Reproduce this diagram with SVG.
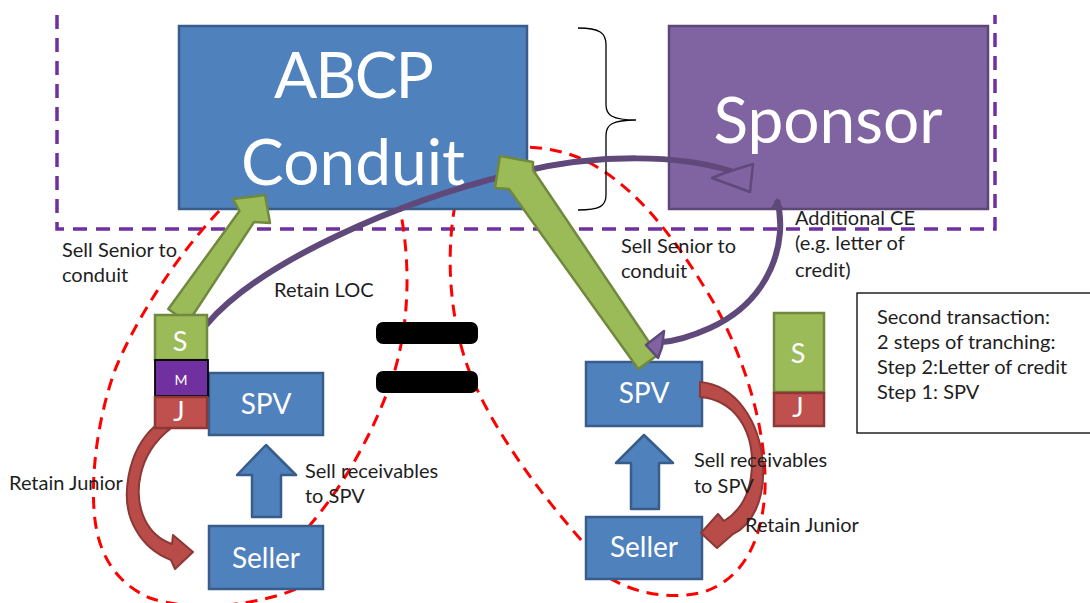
<svg xmlns="http://www.w3.org/2000/svg" width="1090" height="603" viewBox="0 0 1090 603">
<style>
.box{fill:#4F81BD;stroke:#385D8A;stroke-width:2.5}
.wt{fill:#fff;font-family:Lato,"Liberation Sans",sans-serif;text-anchor:middle}
.lb{fill:#1e1e1e;font-family:Lato,"Liberation Sans",sans-serif;font-size:20px}
.red{fill:none;stroke:#FF0000;stroke-width:3;stroke-dasharray:12 8}
.grn{fill:#9BBB59;stroke:#71893F;stroke-width:2.5;stroke-linejoin:round}
.rar{fill:#B94B48;stroke:#8C3836;stroke-width:2;stroke-linejoin:round}
.blu{fill:#4F81BD;stroke:#385D8A;stroke-width:2.5;stroke-linejoin:round}
.pur{fill:none;stroke:#5F497A;stroke-width:6;stroke-linecap:round}
.phd{fill:#8064A2;stroke:#5F497A;stroke-width:2.5;stroke-linejoin:round}
</style>
<g id="boundary">
<path d="M57 15 L57 229 L995 229 L995 15" fill="none" stroke="#7030A0" stroke-width="3.5" stroke-dasharray="14 9"/>
</g>
<g id="loops">
<path class="red" d="M398 200 C412 260 410 330 390 385 C370 440 340 490 310 525 L305 585 C260 607 190 612 150 598 C120 585 100 560 95 520 C90 480 97 420 115 370 C135 320 180 250 225 205"/>
<path class="red" d="M455 205 C445 260 450 330 475 385 C500 440 545 500 590 550 L605 575 C630 592 665 600 700 593 C740 582 762 545 765 490 C767 430 745 360 715 305 C680 245 640 190 590 163 C570 152 545 147 520 147"/>
</g>
<g id="brace">
<path d="M578 28 C600 28 606 33 606 45 L606 105 C606 115 612 120 636 120 C612 120 606 125 606 135 L606 195 C606 206 600 210 578 210" fill="none" stroke="#000" stroke-width="1.3"/>
</g>
<g id="conduit">
<rect class="box" x="179" y="26" width="348" height="183"/>
<text class="wt" x="353" y="98" font-size="64" letter-spacing="-2">ABCP</text>
<text class="wt" x="353" y="185" font-size="64">Conduit</text>
</g>
<g id="sponsor">
<rect x="669" y="26" width="319" height="183" fill="#8064A2" stroke="#5C4776" stroke-width="2.5"/>
<text class="wt" x="828" y="143" font-size="64">Sponsor</text>
</g>
<g id="equals">
<rect x="376" y="322" width="102" height="22" rx="7" fill="#000"/>
<rect x="376" y="371" width="102" height="22" rx="7" fill="#000"/>
</g>
<g id="spv-left">
<rect class="box" x="209" y="373" width="114" height="62"/>
<text class="wt" x="266" y="414" font-size="28">SPV</text>
</g>
<g id="seller-left">
<rect class="box" x="209" y="526" width="114" height="63"/>
<text class="wt" x="266" y="568" font-size="28">Seller</text>
</g>
<g id="spv-right">
<rect class="box" x="586" y="362" width="116" height="64"/>
<text class="wt" x="644" y="403" font-size="28">SPV</text>
</g>
<g id="seller-right">
<rect class="box" x="586" y="517" width="116" height="62"/>
<text class="wt" x="644" y="557" font-size="28">Seller</text>
</g>
<g id="connectors">
<polygon class="blu" points="266,445 296,475 281,475 281,517 252,517 252,475 237,475"/>
<polygon class="blu" points="644,435 673,463 659,463 659,509 631,509 631,463 616,463"/>
<path class="rar" d="M155 426 C128 450 118 500 136 530 C145 546 158 555 171 560 L175 569 L193 552 L173 535 L172 544 C160 540 151 532 145 520 C133 495 137 455 170 429 Z"/>
<path class="rar" d="M700 382 C735 385 760 420 763 465 C765 500 752 525 733 534 L717 548 L701 533 L718 514 L724 521 C742 510 752 490 752 462 C752 430 735 400 700 397 Z"/>
<path class="pur" d="M207 324 C260 262 400 200 520 172 C600 153 680 155 731 171"/>
<polygon class="phd" points="740,168 753,164 750,192 712,178 722,174"/>
<polygon class="grn" points="187.7,323 254,222 270,223 265,195 233,199 239.5,211 168.3,309"/>
<polygon class="grn" points="657.7,355 533,170 533,162 500,156 495,188 509,189 638.3,369"/>
<path d="M777 200 C788 240 772 300 710 328 C690 337 675 341 662 342" fill="none" stroke="#5F497A" stroke-width="6"/>
<path d="M771 208 L777 198 L783 208 Z" fill="#5F497A"/>
<polygon class="phd" points="664,331 646,345 658,358 662,347"/>
</g>
<g id="tranches-left">
<rect x="155" y="315" width="52" height="45" fill="#9BBB59" stroke="#71893F" stroke-width="2.5"/>
<text class="wt" x="180" y="351" font-size="27">S</text>
<rect x="155" y="360" width="53" height="36" fill="#7030A0" stroke="#000" stroke-width="1.8"/>
<text class="wt" x="181" y="385" font-size="14">M</text>
<rect x="155" y="397" width="52" height="31" fill="#C0504D" stroke="#8C3836" stroke-width="2.5"/>
<text class="wt" x="179" y="421" font-size="27">J</text>
</g>
<g id="tranches-right">
<rect x="774" y="313" width="50" height="79" fill="#9BBB59" stroke="#71893F" stroke-width="2.5"/>
<text class="wt" x="798" y="363" font-size="27">S</text>
<rect x="774" y="393" width="50" height="33" fill="#C0504D" stroke="#8C3836" stroke-width="2.5"/>
<text class="wt" x="798" y="417" font-size="27">J</text>
</g>
<g id="labels">
<text class="lb" x="62" y="257">Sell Senior to</text>
<text class="lb" x="62" y="282">conduit</text>
<text class="lb" x="274" y="297">Retain LOC</text>
<text class="lb" x="9" y="490">Retain Junior</text>
<text class="lb" x="305" y="478">Sell receivables</text>
<text class="lb" x="305" y="503">to SPV</text>
<text class="lb" x="621" y="253">Sell Senior to</text>
<text class="lb" x="621" y="278">conduit</text>
<text class="lb" x="795" y="225">Additional CE</text>
<text class="lb" x="795" y="250">(e.g. letter of</text>
<text class="lb" x="795" y="277">credit)</text>
<text class="lb" x="694" y="467">Sell receivables</text>
<text class="lb" x="694" y="493">to SPV</text>
<text class="lb" x="745" y="532">Retain Junior</text>
</g>
<g id="note">
<rect x="857" y="293" width="240" height="140" fill="#fff" stroke="#000" stroke-width="1.3"/>
<text class="lb" x="877" y="324">Second transaction:</text>
<text class="lb" x="877" y="349">2 steps of tranching:</text>
<text class="lb" x="877" y="374">Step 2:Letter of credit</text>
<text class="lb" x="877" y="399">Step 1: SPV</text>
</g>
</svg>
